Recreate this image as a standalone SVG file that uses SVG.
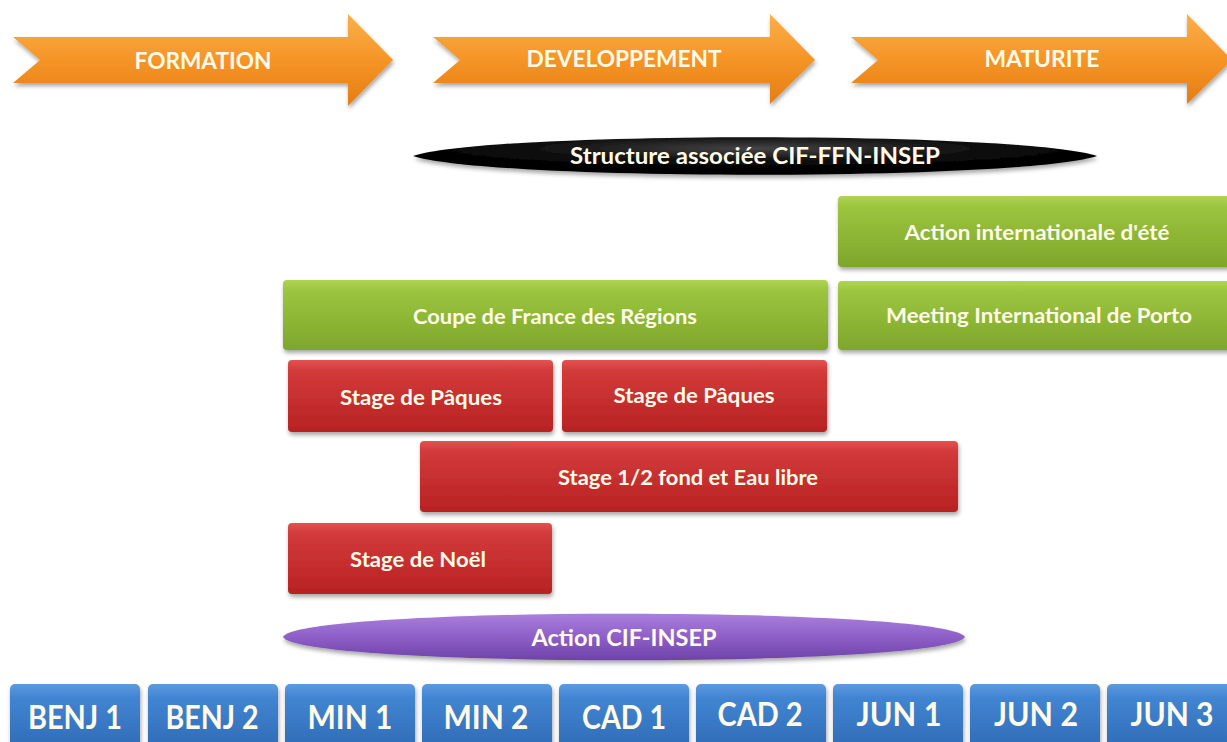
<svg xmlns="http://www.w3.org/2000/svg" width="1227" height="742" viewBox="0 0 1227 742">
<defs>
<linearGradient id="gOr" x1="0" y1="0" x2="0" y2="1"><stop offset="0" stop-color="#fbb04a"/><stop offset="0.5" stop-color="#f59527"/><stop offset="1" stop-color="#e47d12"/></linearGradient>
<linearGradient id="gGr" x1="0" y1="0" x2="0" y2="1"><stop offset="0" stop-color="#b0d454"/><stop offset="0.15" stop-color="#9cc53f"/><stop offset="1" stop-color="#7ea62b"/></linearGradient>
<linearGradient id="gRd" x1="0" y1="0" x2="0" y2="1"><stop offset="0" stop-color="#e35252"/><stop offset="0.15" stop-color="#d23a3a"/><stop offset="1" stop-color="#b82222"/></linearGradient>
<linearGradient id="gBl" x1="0" y1="0" x2="0" y2="1"><stop offset="0" stop-color="#5d9be0"/><stop offset="0.2" stop-color="#4285d2"/><stop offset="1" stop-color="#2f6bb6"/></linearGradient>
<linearGradient id="gPu" x1="0" y1="0" x2="0" y2="1"><stop offset="0" stop-color="#a97fdc"/><stop offset="0.5" stop-color="#8e5fc8"/><stop offset="1" stop-color="#6e42a8"/></linearGradient>
<radialGradient id="gBk" cx="0.5" cy="0.3" r="0.6"><stop offset="0" stop-color="#444"/><stop offset="0.6" stop-color="#0a0a0a"/><stop offset="1" stop-color="#000"/></radialGradient>
<filter id="sh" x="-5%" y="-20%" width="110%" height="150%"><feDropShadow dx="1" dy="3" stdDeviation="2" flood-color="#000" flood-opacity="0.35"/></filter>
</defs>
<style>
text{font-family:Lato,"Open Sans","Liberation Sans",sans-serif;font-weight:bold;fill:#fffbe8;text-anchor:middle;dominant-baseline:central}
.arr{fill:url(#gOr);filter:url(#sh)}
.grn{fill:url(#gGr);filter:url(#sh)}
.red{fill:url(#gRd);filter:url(#sh)}
.blu{fill:url(#gBl);filter:url(#sh)}
.t23{font-size:23px}
.t22{font-size:22px}
.t21{font-size:21px}
.t33{font-size:33px}
</style>
<g id="phases">
<g id="formation"><polygon class="arr" points="13,37 348,37 348,14 393,60 348,106 348,83 13,83 40,60"/><text class="t23" x="203" y="60" textLength="137" lengthAdjust="spacingAndGlyphs">FORMATION</text></g>
<g id="developpement"><polygon class="arr" points="433,37 770,37 770,14 815,60 770,104 770,83 433,83 460,60"/><text class="t23" x="624" y="58" textLength="195" lengthAdjust="spacingAndGlyphs">DEVELOPPEMENT</text></g>
<g id="maturite"><polygon class="arr" points="851,37 1187,37 1187,14 1232,60 1187,104 1187,83 851,83 878,60"/><text class="t23" x="1042" y="58" textLength="115" lengthAdjust="spacingAndGlyphs">MATURITE</text></g>
</g>
<g id="structure"><path d="M413,156 C490,131 1020,131 1097,156 C1020,181 490,181 413,156 Z" fill="url(#gBk)" filter="url(#sh)"/><text class="t22" x="755" y="155" textLength="370" lengthAdjust="spacingAndGlyphs">Structure associée CIF-FFN-INSEP</text></g>
<g id="action-ete"><rect class="grn" x="838" y="196" width="395" height="71" rx="4"/><text class="t21" x="1037" y="231" textLength="265" lengthAdjust="spacingAndGlyphs">Action internationale d'été</text></g>
<g id="porto"><rect class="grn" x="838" y="281" width="395" height="69" rx="4"/><text class="t21" x="1039" y="314" textLength="306" lengthAdjust="spacingAndGlyphs">Meeting International de Porto</text></g>
<g id="coupe"><rect class="grn" x="283" y="280" width="545" height="70" rx="4"/><text class="t21" x="555" y="315" textLength="284" lengthAdjust="spacingAndGlyphs">Coupe de France des Régions</text></g>
<g id="paques1"><rect class="red" x="288" y="360" width="265" height="72" rx="4"/><text class="t21" x="421" y="396" textLength="162" lengthAdjust="spacingAndGlyphs">Stage de Pâques</text></g>
<g id="paques2"><rect class="red" x="562" y="360" width="265" height="72" rx="4"/><text class="t21" x="694" y="394" textLength="161" lengthAdjust="spacingAndGlyphs">Stage de Pâques</text></g>
<g id="demifond"><rect class="red" x="420" y="441" width="538" height="71" rx="4"/><text class="t21" x="688" y="476" textLength="260" lengthAdjust="spacingAndGlyphs">Stage 1/2 fond et Eau libre</text></g>
<g id="noel"><rect class="red" x="288" y="523" width="264" height="71" rx="4"/><text class="t21" x="418" y="558" textLength="136" lengthAdjust="spacingAndGlyphs">Stage de Noël</text></g>
<g id="cif-insep"><path d="M283,637 C300,606 948,606 965,637 C948,668 300,668 283,637 Z" fill="url(#gPu)" filter="url(#sh)"/><text class="t22" x="624" y="637" textLength="185" lengthAdjust="spacingAndGlyphs">Action CIF-INSEP</text></g>
<g id="ages">
<g id="benj1"><rect class="blu" x="10" y="684" width="130" height="66" rx="5"/><text class="t33" x="75" y="716" textLength="94" lengthAdjust="spacingAndGlyphs">BENJ 1</text></g>
<g id="benj2"><rect class="blu" x="148" y="684" width="130" height="66" rx="5"/><text class="t33" x="212" y="716" textLength="93" lengthAdjust="spacingAndGlyphs">BENJ 2</text></g>
<g id="min1"><rect class="blu" x="285" y="684" width="130" height="66" rx="5"/><text class="t33" x="350" y="716" textLength="85" lengthAdjust="spacingAndGlyphs">MIN 1</text></g>
<g id="min2"><rect class="blu" x="422" y="684" width="130" height="66" rx="5"/><text class="t33" x="486" y="716" textLength="85" lengthAdjust="spacingAndGlyphs">MIN 2</text></g>
<g id="cad1"><rect class="blu" x="559" y="684" width="130" height="66" rx="5"/><text class="t33" x="624" y="716" textLength="84" lengthAdjust="spacingAndGlyphs">CAD 1</text></g>
<g id="cad2"><rect class="blu" x="696" y="684" width="130" height="66" rx="5"/><text class="t33" x="760" y="713" textLength="85" lengthAdjust="spacingAndGlyphs">CAD 2</text></g>
<g id="jun1"><rect class="blu" x="833" y="684" width="130" height="66" rx="5"/><text class="t33" x="899" y="713" textLength="85" lengthAdjust="spacingAndGlyphs">JUN 1</text></g>
<g id="jun2"><rect class="blu" x="970" y="684" width="130" height="66" rx="5"/><text class="t33" x="1036" y="713" textLength="84" lengthAdjust="spacingAndGlyphs">JUN 2</text></g>
<g id="jun3"><rect class="blu" x="1107" y="684" width="130" height="66" rx="5"/><text class="t33" x="1172" y="713" textLength="83" lengthAdjust="spacingAndGlyphs">JUN 3</text></g>
</g>
</svg>
